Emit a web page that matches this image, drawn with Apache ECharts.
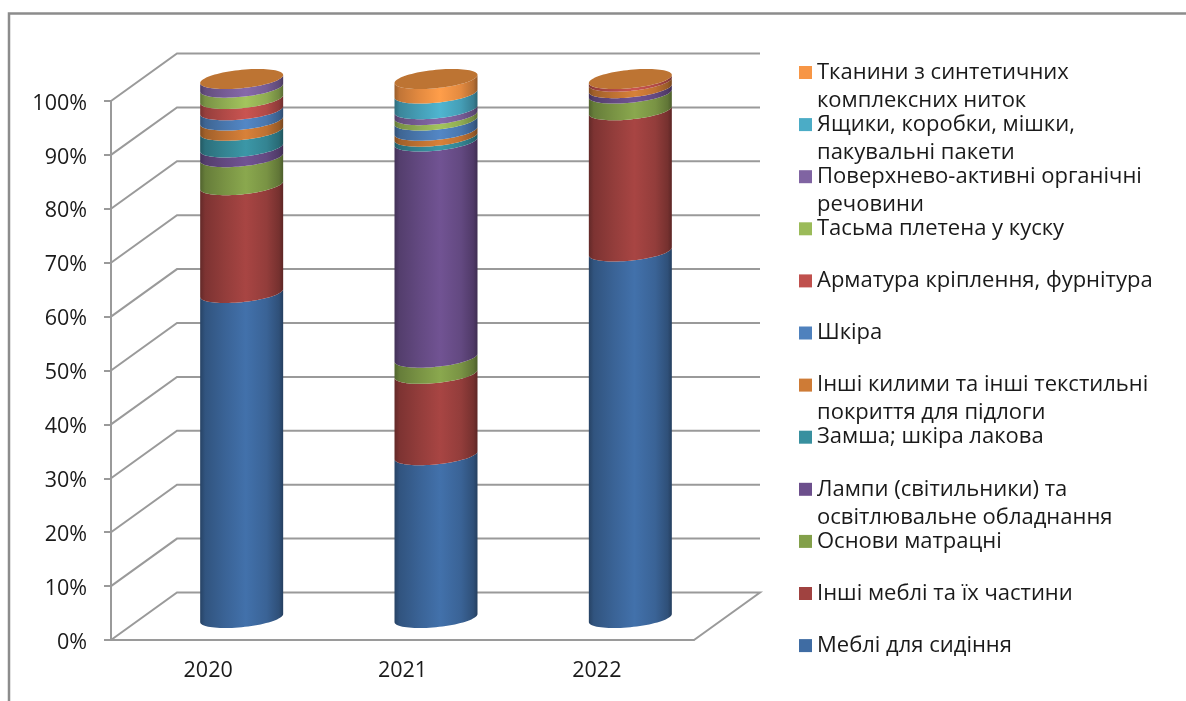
<!DOCTYPE html>
<html>
<head>
<meta charset="utf-8">
<style>html,body{margin:0;padding:0;background:#fff}#chart{width:1186px;height:701px}</style>
<script src="https://cdn.jsdelivr.net/npm/echarts@6/dist/echarts.min.js"></script>
</head>
<body>
<div id="chart"></div>
<script>
// Years on the category axis
const years = ['2020', '2021', '2022'];

// Share of each commodity group, percent per year (bottom of the stack first)
const seatingFurniture = [60.3, 30.2, 68.0];
const otherFurniture   = [20.0, 15.1, 26.2];
const mattressSupports = [5.2, 3.0, 3.1];
const lamps            = [1.8, 40.1, 1.0];
const patentLeather    = [3.1, 0.9, 0.0];
const otherCarpets     = [1.9, 1.1, 1.2];
const leather          = [1.9, 1.9, 0.0];
const fittings         = [2.1, 0.0, 0.5];
const braid            = [2.1, 1.0, 0.0];
const surfactants      = [1.6, 1.1, 0.0];
const boxes            = [0.0, 2.9, 0.0];
const syntheticFabrics = [0.0, 2.7, 0.0];

const seriesNames = [
  'Меблі для сидіння',
  'Інші меблі та їх частини',
  'Основи матрацні',
  'Лампи (світильники) та\nосвітлювальне обладнання',
  'Замша; шкіра лакова',
  'Інші килими та інші текстильні\nпокриття для підлоги',
  'Шкіра',
  'Арматура кріплення, фурнітура',
  'Тасьма плетена у куску',
  'Поверхнево-активні органічні\nречовини',
  'Ящики, коробки, мішки,\nпакувальні пакети',
  'Тканини з синтетичних\nкомплексних ниток'
];
const seriesValues = [
  seatingFurniture, otherFurniture, mattressSupports, lamps, patentLeather, otherCarpets,
  leather, fittings, braid, surfactants, boxes, syntheticFabrics
];
const seriesColors = [
  '#3F6CA3', '#A04240', '#83A04A', '#6C4F8C', '#38909F', '#CE7B36',
  '#4F81BD', '#C0504D', '#9BBB59', '#8064A2', '#4BACC6', '#F79646'
];
const capColor = '#BD7433';

// Oblique projection of the 3D plot box, in pixels
const DEPTH_X = 66, DEPTH_Y = -47.5;
const CYL_SHIFT_X = 33.5, CYL_SHIFT_Y = -22;
const CYL_RX = 41.5, CYL_RY = 9.2, CYL_TILT = 4;
const AXIS_COLOR = '#9a9a9a';

function shade(hex, k) {
  const n = parseInt(hex.slice(1), 16);
  const c = [n >> 16, (n >> 8) & 255, n & 255].map(v => Math.round(Math.min(255, v * k)));
  return 'rgb(' + c.join(',') + ')';
}

// Half of the tilted ellipse that faces the viewer, from right to left
function frontArc(cx, cy) {
  const pts = [];
  for (let i = 0; i <= 40; i++) {
    const t = Math.PI * i / 40;
    pts.push([cx + CYL_RX * Math.cos(t), cy + CYL_RY * Math.sin(t) - CYL_TILT * Math.cos(t)]);
  }
  return pts;
}

function fullEllipse(cx, cy) {
  const pts = [];
  for (let i = 0; i < 80; i++) {
    const t = 2 * Math.PI * i / 80;
    pts.push([cx + CYL_RX * Math.cos(t), cy + CYL_RY * Math.sin(t) - CYL_TILT * Math.cos(t)]);
  }
  return pts;
}

function stackBelow(seriesIndex, cat) {
  let sum = 0;
  for (let s = 0; s < seriesIndex; s++) sum += seriesValues[s][cat];
  return sum;
}

// One stacked cylinder segment; the last series also closes the stack with its cap
function renderSegment(seriesIndex, params, api) {
  const cat = api.value(0), value = api.value(1);
  const base = stackBelow(seriesIndex, cat);
  const lo = api.coord([cat, base]), hi = api.coord([cat, base + value]);
  const cx = lo[0] + CYL_SHIFT_X;
  const lower = frontArc(cx, lo[1] + CYL_SHIFT_Y);
  const upper = frontArc(cx, hi[1] + CYL_SHIFT_Y).reverse();
  const color = seriesColors[seriesIndex];
  const children = [];
  if (value > 0) {
    children.push({
      type: 'polygon',
      shape: { points: lower.concat(upper) },
      style: {
        fill: new echarts.graphic.LinearGradient(0, 0, 1, 0, [
          { offset: 0, color: shade(color, 0.62) },
          { offset: 0.06, color: shade(color, 0.78) },
          { offset: 0.3, color: shade(color, 0.92) },
          { offset: 0.55, color: shade(color, 1.05) },
          { offset: 0.8, color: shade(color, 0.92) },
          { offset: 0.95, color: shade(color, 0.74) },
          { offset: 1, color: shade(color, 0.58) }
        ])
      }
    });
  }
  if (seriesIndex === seriesNames.length - 1) {
    children.push({
      type: 'polygon',
      shape: { points: fullEllipse(cx, hi[1] + CYL_SHIFT_Y) },
      style: { fill: capColor }
    });
  }
  return { type: 'group', children };
}

// Receding gridlines on the side wall and back wall, plus the floor edge
function renderWalls(params, api) {
  const v = api.value(0);
  const front = api.coord([0, v]);
  const left = front[0] - api.size([1, 0])[0] / 2;
  const y = front[1];
  const right = left + api.size([1, 0])[0] * years.length;
  const pts = [[left, y], [left + DEPTH_X, y + DEPTH_Y], [right + DEPTH_X, y + DEPTH_Y]];
  if (v === 0) pts.push([right, y]);
  return {
    type: 'polyline',
    shape: { points: pts },
    style: { stroke: AXIS_COLOR, lineWidth: 2, fill: null }
  };
}

const tickValues = [0, 10, 20, 30, 40, 50, 60, 70, 80, 90, 100];

const option = {
  animation: false,
  backgroundColor: '#fff',
  textStyle: { fontFamily: 'Open Sans' },
  grid: { left: 111, top: 101, width: 583, height: 539 },
  xAxis: {
    type: 'category',
    data: years,
    axisLine: { lineStyle: { color: AXIS_COLOR, width: 2 } },
    axisTick: { alignWithLabel: false, length: 6, lineStyle: { color: AXIS_COLOR, width: 2 } },
    axisLabel: { color: '#1a1a1a', fontSize: 21.5, margin: 20, fontFamily: 'Open Sans' }
  },
  yAxis: {
    type: 'value',
    min: 0,
    max: 100,
    interval: 10,
    splitLine: { show: false },
    axisLine: { show: true, lineStyle: { color: AXIS_COLOR, width: 2 } },
    axisTick: { show: true, length: 7, lineStyle: { color: AXIS_COLOR, width: 2 } },
    axisLabel: {
      color: '#1a1a1a',
      margin: 24,
      formatter: v => '{pct|' + v + '%}',
      rich: { pct: { color: '#1a1a1a', fontSize: 21.5, fontFamily: 'Open Sans', padding: [5, 0, 0, 0] } }
    }
  },
  legend: {
    orient: 'vertical',
    left: 794,
    top: 53.5,
    itemWidth: 13,
    itemHeight: 56,
    itemGap: -3.9,
    selectedMode: false,
    data: seriesNames.slice().reverse().map(name => ({
      name,
      // Swatch sits beside the first text line of a two-line slot
      icon: 'path://M0 7.5H13V20.5H0Z M0 0L0 0 M13 56L13 56',
      itemStyle: { borderWidth: 0 }
    })),
    formatter: name => (name.indexOf('\n') >= 0 ? name : name + '\n '),
    textStyle: { color: '#1a1a1a', fontSize: 22, lineHeight: 28, fontFamily: 'Open Sans' }
  },
  graphic: [{
    type: 'polyline',
    silent: true,
    shape: { points: [[9, 701], [9, 13.5], [1186, 13.5]] },
    style: { stroke: '#8c8c8c', lineWidth: 2.5, fill: null }
  }],
  series: [{
    type: 'custom',
    name: 'walls',
    coordinateSystem: 'cartesian2d',
    silent: true,
    z: 1,
    encode: { y: 0 },
    renderItem: renderWalls,
    data: tickValues.map(v => [v])
  }].concat(seriesNames.map((name, i) => ({
    type: 'custom',
    name,
    coordinateSystem: 'cartesian2d',
    z: 3 + i,
    itemStyle: { color: seriesColors[i] },
    encode: { x: 0, y: 1 },
    renderItem: (params, api) => renderSegment(i, params, api),
    data: seriesValues[i].map((v, c) => [c, v])
  })))
};

const chart = echarts.init(document.getElementById('chart'));
chart.setOption(option);
</script>
</body>
</html>
